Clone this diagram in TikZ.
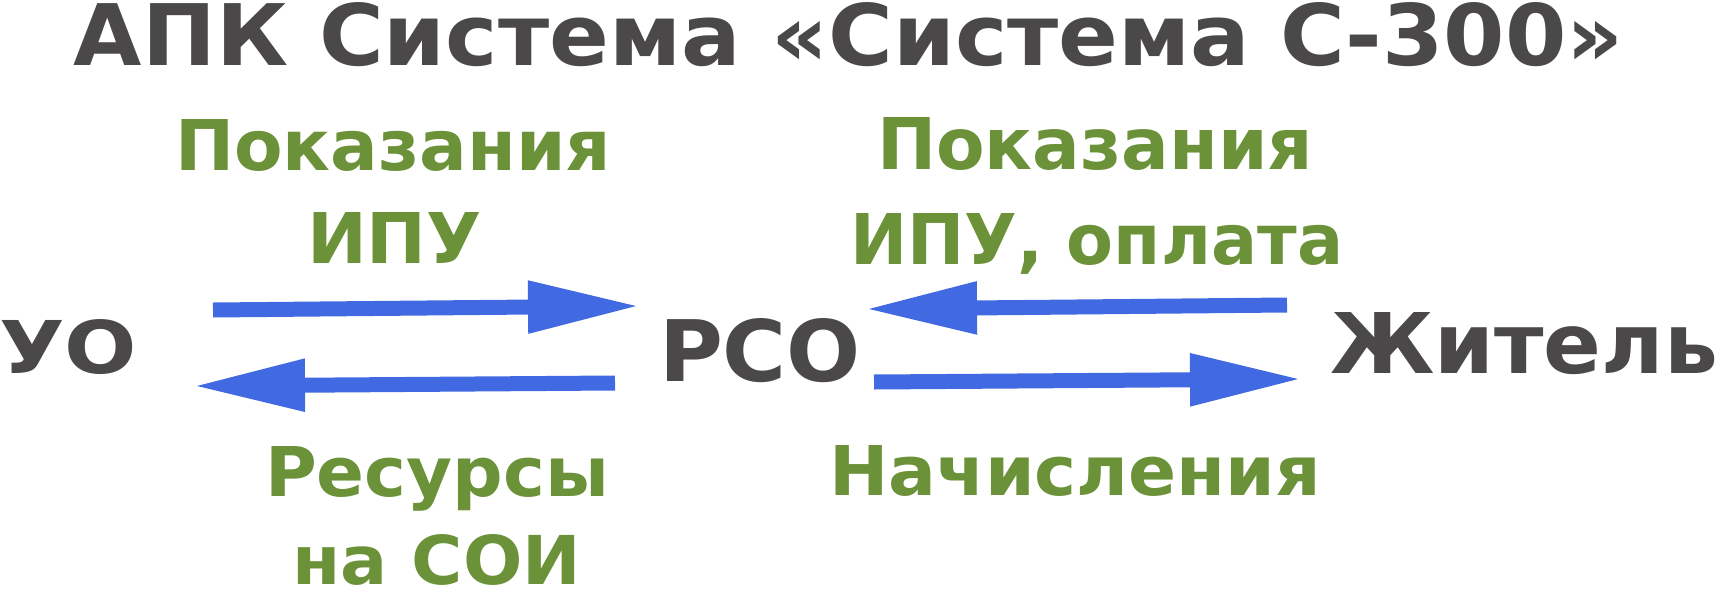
\documentclass[tikz,border=0pt]{standalone}
\usepackage{fontspec}
\setmainfont{DejaVu Sans}
\usepackage{graphicx}
\usetikzlibrary{arrows.meta}
\definecolor{txtgray}{RGB}{74,72,73}
\definecolor{txtgreen}{RGB}{107,146,57}
\definecolor{arrblue}{RGB}{65,105,225}
\newcommand\fitbox[3]{\resizebox{#1pt}{#2pt}{\bfseries #3}}
\begin{document}
\begin{tikzpicture}[x=1pt,y=-1pt,
  lbl/.style={inner sep=0pt, outer sep=0pt, anchor=base west},
  titlelbl/.style={lbl,text=txtgray},
  ent/.style={lbl,text=txtgray},
  flow/.style={lbl,text=txtgreen},
  bluearrow/.style={draw=arrblue,line width=15pt,-{Triangle[length=112pt,width=49pt]}}
]
\useasboundingbox (0,0) rectangle (1719,592);
% title
\node[titlelbl] (title) at (74,65) {\fitbox{1549}{63}{АПК Система «Система С-300»}};
% entities
\node[ent] (uo) at (-1,373) {\fitbox{138}{54}{УО}};
\node[ent] (rso) at (659,381) {\fitbox{202}{63}{РСО}};
\node[ent] (zh) at (1330,373) {\fitbox{388}{61}{Житель}};
% flow labels
\node[flow] (pl1) at (175,170) {\fitbox{436}{51}{Показания}};
\node[flow] (pl2) at (307,263) {\fitbox{175}{51}{ИПУ}};
\node[flow] (pr1) at (877,169) {\fitbox{436}{52}{Показания}};
\node[flow] (pr2) at (850,264) {\fitbox{493}{51}{ИПУ, оплата}};
\node[flow] (rs1) at (265,496) {\fitbox{344}{50}{Ресурсы}};
\node[flow] (rs2) at (292,584) {\fitbox{289}{50}{на СОИ}};
\node[flow] (nch) at (829,495) {\fitbox{492}{50}{Начисления}};
% arrows
\coordinate (t1) at (213,310); \coordinate (h1) at (640,306);
\coordinate (t2) at (615,383); \coordinate (h2) at (193,386);
\coordinate (t3) at (1287,305); \coordinate (h3) at (865,309);
\coordinate (t4) at (874,382); \coordinate (h4) at (1302,379);
\draw[bluearrow] (t1) -- (h1);
\draw[bluearrow] (t2) -- (h2);
\draw[bluearrow] (t3) -- (h3);
\draw[bluearrow] (t4) -- (h4);
\end{tikzpicture}
\end{document}
